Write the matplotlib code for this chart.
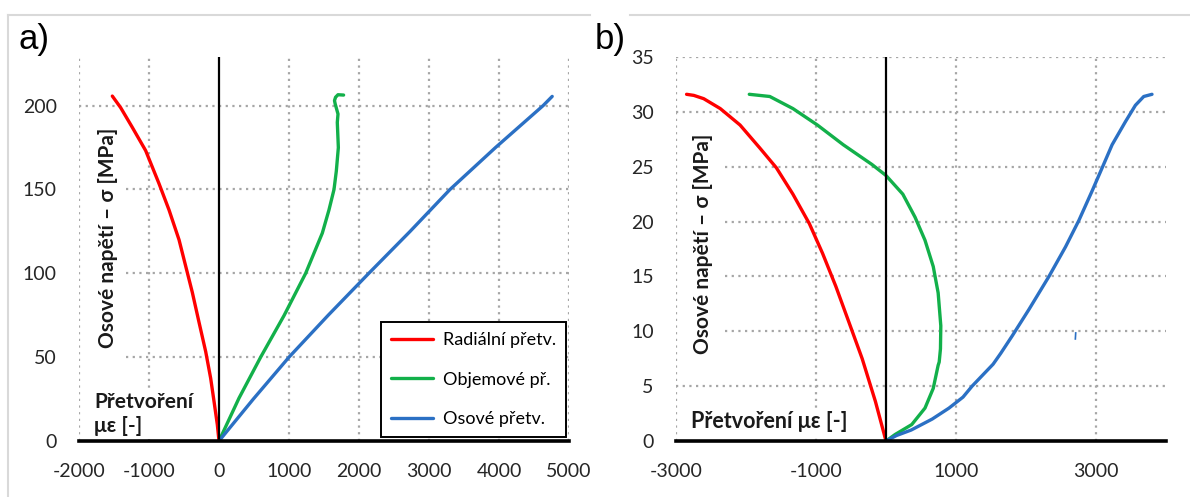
import matplotlib.pyplot as plt
from matplotlib.lines import Line2D

plt.rcParams['font.family'] = ['Lato', 'DejaVu Sans']
plt.rcParams['axes.unicode_minus'] = False

# panel a) - strain [microstrain] vs axial stress [MPa]
a_rad_x = [0, -24, -71, -119, -190, -286, -381, -476, -571, -714, -857, -1048, -1238, -1405, -1524]
a_rad_y = [0, 9.8, 23.6, 37.4, 53.3, 70.9, 88.6, 104.3, 120, 137.8, 153.5, 173.2, 187, 198.8, 205.7]
a_vol_x = [0, 286, 595, 929, 1238, 1476, 1571, 1643, 1676, 1705, 1690, 1700, 1680, 1660, 1650, 1665, 1700, 1780]
a_vol_y = [0, 25.6, 50, 74.8, 100, 124, 137.8, 150, 161, 175, 190, 195, 198, 201, 203, 205, 206.5, 206.3]
a_ax_x = [0, 490, 1000, 1560, 2140, 2730, 3300, 3950, 4630, 4760]
a_ax_y = [0, 25, 50, 75, 100, 125, 150, 175, 200, 205.5]

# panel b)
b_rad_x = [0, -151, -340, -528, -717, -906, -1094, -1330, -1566, -1802, -2085, -2368, -2604, -2745, -2849]
b_rad_y = [0, 3.6, 7.5, 10.8, 14.1, 17.1, 19.8, 22.5, 24.9, 26.7, 28.8, 30.3, 31.2, 31.5, 31.6]
b_vol_x = [0, 132, 368, 557, 675, 745, 760, 778, 783, 745, 675, 557, 415, 240, 0, -200, -610, -980,
           -1330, -1660, -1953]
b_vol_y = [0, 0.6, 1.5, 3.0, 4.8, 6.9, 7.2, 8.4, 10.5, 13.5, 15.9, 18.3, 20.4, 22.5, 24.2, 25.2, 27,
           28.8, 30.3, 31.4, 31.6]
b_ax_x = [0, 150, 360, 660, 900, 1100, 1230, 1380, 1500, 1530, 1640, 1805, 2043, 2328, 2565, 2755,
          2945, 3088, 3230, 3420, 3563, 3682, 3800]
b_ax_y = [0, 0.5, 1, 2, 3, 4, 5, 6, 6.8, 7.0, 8, 9.6, 12, 15, 17.7, 20.1,
          22.8, 24.9, 27, 29.1, 30.6, 31.4, 31.6]
b_stray_x = [2705, 2710]
b_stray_y = [9.3, 9.85]

labels = ['Radiální přetv.', 'Objemové př.', 'Osové přetv.']
colors = ['#ff0000', '#12b04a', '#2b70c4']
ylabel = 'Osové napětí – σ [MPa]'

fig = plt.figure(figsize=(11.9, 4.97), dpi=100)
ax1 = fig.add_axes([79 / 1190, 56 / 497, 490 / 1190, 384 / 497])
ax2 = fig.add_axes([676 / 1190, 56 / 497, 490 / 1190, 384 / 497])

grid_kw = dict(color='#a6a6a6', linestyle=(0, (1, 2)), linewidth=1.6, zorder=0)


def style(ax, xlim, ylim, xticks, yticks):
    ax.set_xlim(*xlim)
    ax.set_ylim(*ylim)
    ax.set_xticks(xticks)
    ax.set_yticks(yticks)
    for s in ['top', 'right', 'left']:
        ax.spines[s].set_visible(False)
    ax.spines['bottom'].set_linewidth(2.6)
    ax.spines['bottom'].set_zorder(5)
    ax.tick_params(length=0, labelsize=14, labelcolor='#262626')
    ax.tick_params(axis='x', pad=16)
    ax.tick_params(axis='y', pad=16)
    for xt in xticks:
        if xt != 0:
            ax.axvline(xt, **grid_kw)
    ax.axvline(0, color='black', linewidth=1.6, zorder=4)


style(ax1, (-2000, 5000), (0, 229), range(-2000, 5001, 1000), range(0, 201, 50))
style(ax2, (-3000, 4000), (0, 35), [-3000, -1000, 1000, 3000], range(0, 36, 5))

# horizontal gridlines (some start right of the y label)
ax1.hlines([200], -2000, 5000, **grid_kw)
ax1.hlines([50, 100, 150], -1330, 5000, **grid_kw)
ax2.hlines([5, 30, 35], -3000, 4000, **grid_kw)
ax2.hlines([10, 15, 20, 25], -2300, 4000, **grid_kw)

lw = 2.4
for xs, ys, c, lab in zip([a_rad_x, a_vol_x, a_ax_x], [a_rad_y, a_vol_y, a_ax_y], colors, labels):
    ax1.plot(xs, ys, color=c, linewidth=lw, label=lab, zorder=3,
             solid_capstyle='round', solid_joinstyle='round')
for xs, ys, c in zip([b_rad_x, b_vol_x, b_ax_x], [b_rad_y, b_vol_y, b_ax_y], colors):
    ax2.plot(xs, ys, color=c, linewidth=lw, zorder=3,
             solid_capstyle='round', solid_joinstyle='round')
ax2.plot(b_stray_x, b_stray_y, color=colors[2], linewidth=1.2, zorder=3)

leg = ax1.legend(loc='lower right', bbox_to_anchor=(0.994, 0.01), borderaxespad=0,
                 fontsize=13, frameon=True, fancybox=False, framealpha=1,
                 edgecolor='black', labelspacing=1.3, handlelength=2.35,
                 borderpad=0.55, handletextpad=0.55)
leg.get_frame().set_linewidth(1.4)
leg.set_zorder(6)

bold_kw = dict(fontsize=15, fontweight='bold', color='#1a1a1a')
ax1.text(0.059, 0.53, ylabel, rotation=90, ha='center', va='center',
         transform=ax1.transAxes, **bold_kw)
ax2.text(0.056, 0.513, ylabel, rotation=90, ha='center', va='center',
         transform=ax2.transAxes, **bold_kw)
ax1.text(0.031, 0.012, 'Přetvoření\nμε [-]', ha='left', va='bottom', linespacing=1.25,
         transform=ax1.transAxes, zorder=2,
         bbox=dict(facecolor='white', edgecolor='none', pad=2), **bold_kw)
ax2.text(0.031, 0.024, 'Přetvoření με [-]', ha='left', va='bottom',
         transform=ax2.transAxes, zorder=2, fontsize=15.5, fontweight='bold', color='#1a1a1a',
         bbox=dict(facecolor='white', edgecolor='none', pad=2))

fig.text(19 / 1190, 1 - 40 / 497, 'a)', fontsize=25, family='Liberation Sans', va='center')
fig.text(595 / 1190, 1 - 40 / 497, 'b)', fontsize=25, family='Liberation Sans', va='center')

frame_kw = dict(color='#d9d9d9', linewidth=1.5, transform=fig.transFigure)
fig.add_artist(Line2D([8 / 1190, 590 / 1190], [1 - 15 / 497] * 2, **frame_kw))
fig.add_artist(Line2D([8 / 1190] * 2, [1 - 15 / 497, 0], **frame_kw))
fig.add_artist(Line2D([630 / 1190, 1], [1 - 15 / 497] * 2, **frame_kw))

fig.savefig('out.png', dpi=100)
